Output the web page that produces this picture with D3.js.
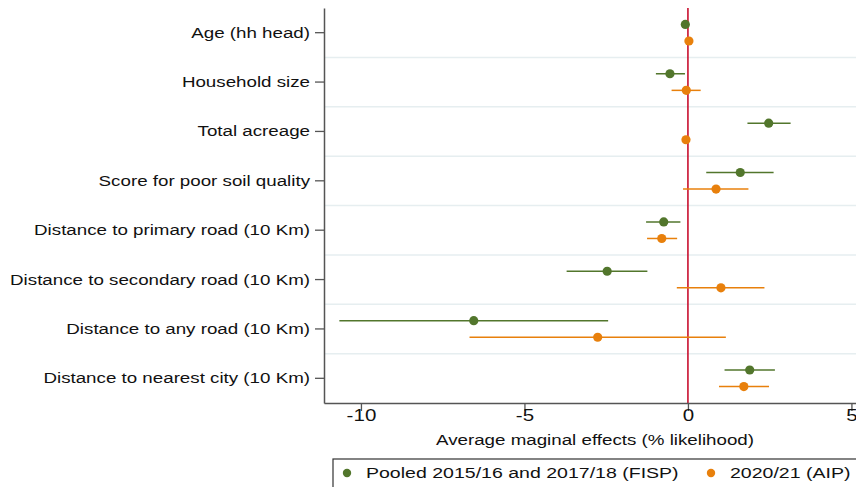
<!DOCTYPE html>
<html>
<head>
<meta charset="utf-8">
<script src="https://cdn.jsdelivr.net/npm/d3@7"></script>
<style>
  body { margin: 0; background: #fff; }
  svg { display: block; font-family: "Liberation Sans", Arial, sans-serif; }
</style>
</head>
<body>
<div id="chart"></div>
<script>
const variables = [
  "Age (hh head)",
  "Household size",
  "Total acreage",
  "Score for poor soil quality",
  "Distance to primary road (10 Km)",
  "Distance to secondary road (10 Km)",
  "Distance to any road (10 Km)",
  "Distance to nearest city (10 Km)"
];

// pooled 2015/16 and 2017/18 (FISP): estimate, lower, upper
const fispEst = [-0.08, -0.55, 2.47, 1.60, -0.74, -2.47, -6.55, 1.89];
const fispLo  = [-0.12, -0.98, 1.82, 0.56, -1.28, -3.71, -10.66, 1.12];
const fispHi  = [-0.04, -0.09, 3.14, 2.62, -0.23, -1.24, -2.44, 2.66];

// 2020/21 (AIP)
const aipEst = [0.03, -0.05, -0.06, 0.86, -0.80, 1.01, -2.76, 1.71];
const aipLo  = [-0.01, -0.50, -0.12, -0.15, -1.25, -0.34, -6.68, 0.95];
const aipHi  = [0.07, 0.39, 0.00, 1.85, -0.33, 2.34, 1.16, 2.48];

const xTicks = [-10, -5, 0, 5];

const seriesNames = ["Pooled 2015/16 and 2017/18 (FISP)", "2020/21 (AIP)"];
const seriesColors = ["#52762c", "#e8800c"];

const width = 856;
const height = 487;
const margin = { top: 8, right: 0, bottom: 84, left: 324 };
// the original text is drawn a bit wide
const stretch = 1.21;

const svg = d3.select("#chart").append("svg")
  .attr("width", width)
  .attr("height", height);

const xScale = d3.scaleLinear()
  .domain([-11.13, 5.14])
  .range([margin.left, width - margin.right]);

const yScale = d3.scaleBand()
  .domain(variables)
  .range([margin.top, height - margin.bottom]);

const offset = yScale.bandwidth() * 0.168;

// light separators between variables
svg.append("g")
  .selectAll("line")
  .data(variables.slice(1))
  .enter()
  .append("line")
  .attr("x1", margin.left)
  .attr("x2", width)
  .attr("y1", d => yScale(d))
  .attr("y2", d => yScale(d))
  .attr("stroke", "#e6eef0")
  .attr("stroke-width", 1.5);

// zero line
svg.append("line")
  .attr("x1", xScale(0))
  .attr("x2", xScale(0))
  .attr("y1", margin.top)
  .attr("y2", height - margin.bottom)
  .attr("stroke", "#c8102e")
  .attr("stroke-width", 1.6);

const series = [
  { est: fispEst, lo: fispLo, hi: fispHi, dy: -offset, color: seriesColors[0] },
  { est: aipEst, lo: aipLo, hi: aipHi, dy: offset, color: seriesColors[1] }
];

series.forEach(s => {
  const rows = variables.map((v, i) => ({ v, est: s.est[i], lo: s.lo[i], hi: s.hi[i] }));
  const g = svg.append("g");
  g.selectAll(".ci")
    .data(rows)
    .enter()
    .append("line")
    .attr("class", "ci")
    .attr("x1", d => xScale(d.lo))
    .attr("x2", d => xScale(d.hi))
    .attr("y1", d => yScale(d.v) + yScale.bandwidth() / 2 + s.dy)
    .attr("y2", d => yScale(d.v) + yScale.bandwidth() / 2 + s.dy)
    .attr("stroke", s.color)
    .attr("stroke-width", 1.5);
  g.selectAll(".pt")
    .data(rows)
    .enter()
    .append("circle")
    .attr("class", "pt")
    .attr("cx", d => xScale(d.est))
    .attr("cy", d => yScale(d.v) + yScale.bandwidth() / 2 + s.dy)
    .attr("r", 4.6)
    .attr("fill", s.color);
});

function widen(sel, k) {
  sel.each(function() {
    const t = d3.select(this);
    const x = +t.attr("x") || 0;
    t.attr("x", x / k).attr("transform", `scale(${k},1)`);
  });
}

// y axis
const yAxis = svg.append("g")
  .attr("transform", `translate(${margin.left},0)`)
  .call(d3.axisLeft(yScale).tickSize(9).tickPadding(5).tickSizeOuter(0));
yAxis.select(".domain").attr("stroke", "#555").attr("stroke-width", 1.5);
yAxis.selectAll(".tick line").attr("stroke", "#555").attr("stroke-width", 1.3);
yAxis.selectAll(".tick text")
  .attr("font-size", 15.5)
  .attr("fill", "#111")
  .call(widen, stretch);

// x axis
const xAxis = svg.append("g")
  .attr("transform", `translate(0,${height - margin.bottom})`)
  .call(d3.axisBottom(xScale).tickValues(xTicks).tickSize(8).tickPadding(4).tickSizeOuter(0)
    .tickFormat(d => String(d)));
xAxis.select(".domain").attr("stroke", "#555").attr("stroke-width", 1.5);
xAxis.selectAll(".tick line").attr("stroke", "#555").attr("stroke-width", 1.3);
xAxis.selectAll(".tick text")
  .attr("font-size", 17)
  .attr("fill", "#111")
  .attr("dy", null)
  .attr("y", 18)
  .call(widen, stretch);

svg.append("text")
  .attr("x", 595 / stretch)
  .attr("y", 445)
  .attr("transform", `scale(${stretch},1)`)
  .attr("text-anchor", "middle")
  .attr("font-size", 15.5)
  .attr("fill", "#111")
  .text("Average maginal effects (% likelihood)");

// legend
const legendStretch = 1.26;
const legend = svg.append("g");
legend.append("rect")
  .attr("x", 333)
  .attr("y", 459)
  .attr("width", 540)
  .attr("height", 40)
  .attr("fill", "none")
  .attr("stroke", "#333")
  .attr("stroke-width", 1.2);

const legendX = [347, 711];
seriesNames.forEach((name, i) => {
  legend.append("circle")
    .attr("cx", legendX[i])
    .attr("cy", 473)
    .attr("r", 4.2)
    .attr("fill", seriesColors[i]);
  legend.append("text")
    .attr("x", (legendX[i] + 19) / legendStretch)
    .attr("y", 478)
    .attr("transform", `scale(${legendStretch},1)`)
    .attr("font-size", 15.5)
    .attr("fill", "#111")
    .text(name);
});
</script>
</body>
</html>
